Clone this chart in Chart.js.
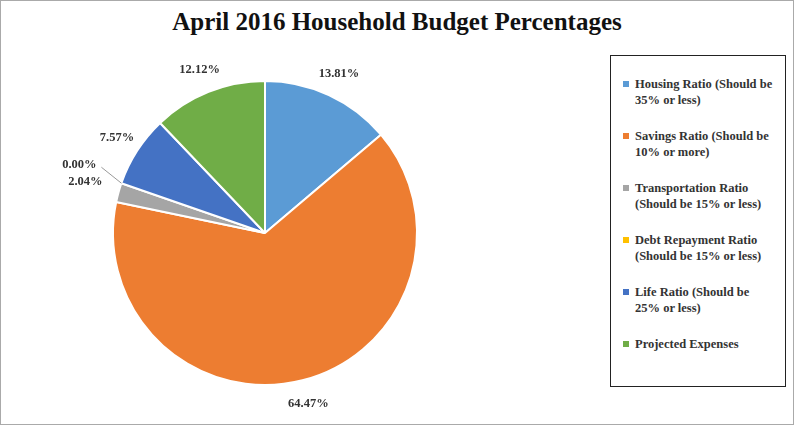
<!DOCTYPE html>
<html>
<head>
<meta charset="utf-8">
<script src="https://cdn.jsdelivr.net/npm/chart.js@4"></script>
<style>
  body { margin:0; background:#fff; font-family:"Liberation Serif", "DejaVu Serif", serif; }
  #frame { position:absolute; left:0; top:0; width:792px; height:423px; border:1px solid #aaa; }
  #title { position:absolute; left:0; top:8px; width:794px; text-align:center; font-size:25px; font-weight:bold; color:#111; }
  #wrap { position:absolute; left:30px; top:58px; width:470px; height:350px; }
  #legend { position:absolute; left:610px; top:55px; width:176px; height:332px; border:1px solid #222; box-sizing:border-box; padding:20px 8px 0 12px; }
  .item { position:relative; padding-left:12px; font-size:12.5px; font-weight:bold; color:#333; line-height:16px; margin-bottom:20px; }
  .sw { position:absolute; left:0; top:5px; width:6px; height:6px; }
</style>
</head>
<body>
<div id="frame"></div>
<div id="title">April 2016 Household Budget Percentages</div>
<div id="wrap"><canvas id="c"></canvas></div>
<div id="legend"></div>
<script>
const categories = ['Housing Ratio (Should be 35% or less)', 'Savings Ratio (Should be 10% or more)', 'Transportation Ratio (Should be 15% or less)', 'Debt Repayment Ratio (Should be 15% or less)', 'Life Ratio (Should be 25% or less)', 'Projected Expenses'];
const values = [13.81, 64.47, 2.04, 0.00, 7.57, 12.12];
const colors = ['#5b9bd5', '#ed7d31', '#a5a5a5', '#ffc000', '#4472c4', '#70ad47'];

document.getElementById('legend').innerHTML = categories.map((c, i) =>
  `<div class="item"><span class="sw" style="background:${colors[i]}"></span>${c}</div>`).join('');

const labelPlugin = {
  id: 'pctLabels',
  afterDatasetsDraw(chart) {
    const ctx = chart.ctx;
    const meta = chart.getDatasetMeta(0);
    ctx.save();
    ctx.font = 'bold 12.5px "Liberation Serif", serif';
    ctx.fillStyle = '#333';
    ctx.textAlign = 'center';
    ctx.textBaseline = 'middle';
    meta.data.forEach((arc, i) => {
      const mid = (arc.startAngle + arc.endAngle) / 2;
      let r = arc.outerRadius + 24;
      let x = arc.x + Math.cos(mid) * r;
      let y = arc.y + Math.sin(mid) * r;
      if (values[i] === 0) {
        // leader line for the empty slice
        const ex = arc.x + Math.cos(mid) * arc.outerRadius;
        const ey = arc.y + Math.sin(mid) * arc.outerRadius;
        x = ex - 42; y = ey - 18;
        ctx.strokeStyle = '#999';
        ctx.lineWidth = 1;
        ctx.beginPath();
        ctx.moveTo(ex, ey);
        ctx.lineTo(x + 22, y + 2);
        ctx.stroke();
      } else if (i === 2) {
        x -= 10; y -= 4;
      }
      ctx.fillText(values[i].toFixed(2) + '%', x, y);
    });
    ctx.restore();
  }
};

new Chart(document.getElementById('c'), {
  type: 'pie',
  data: {
    labels: categories,
    datasets: [{ data: values, backgroundColor: colors, borderColor: '#fff', borderWidth: 2 }]
  },
  options: {
    responsive: true,
    maintainAspectRatio: false,
    animation: false,
    layout: { padding: 22 },
    plugins: { legend: { display: false }, tooltip: { enabled: false } }
  },
  plugins: [labelPlugin]
});
</script>
</body>
</html>
